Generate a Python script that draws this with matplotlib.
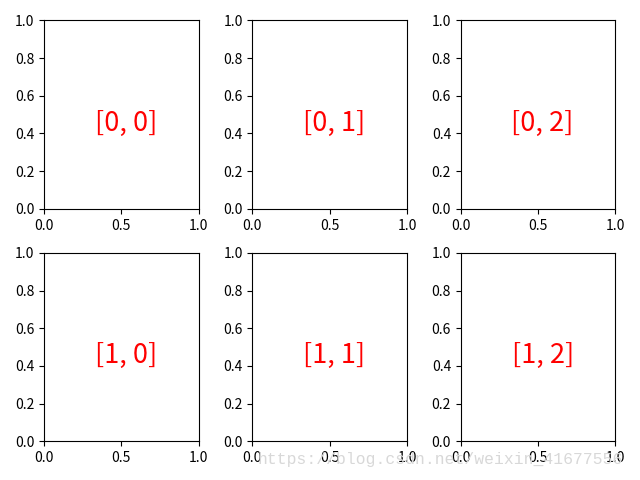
import matplotlib
matplotlib.use('Agg')
from matplotlib import pyplot as plt

plt.rcParams['font.family'] = ['Noto Sans CJK SC', 'DejaVu Sans']

n_rows = 2
n_cols = 3
labels = [['[0, 0]', '[0, 1]', '[0, 2]'],
          ['[1, 0]', '[1, 1]', '[1, 2]']]
watermark = 'https://blog.csdn.net/weixin_41677556'

fig, axes = plt.subplots(n_rows, n_cols, figsize=(6.4, 4.8), dpi=100)
for i in range(n_rows):
    for j in range(n_cols):
        ax = axes[i, j]
        ax.set_xlim(0, 1)
        ax.set_ylim(0, 1)
        ax.set_xticks([0, 0.5, 1])
        ax.set_xticklabels(['0.0', '0.5', '1.0'])
        ax.text(0.53, 0.455, labels[i][j], color='red', fontsize=19.5,
                ha='center', va='center', transform=ax.transAxes)

plt.tight_layout()
# csdn watermark
fig.text(0.403, 0.042, watermark, color='#d8d8d8', fontsize=11.8,
         family=['Liberation Mono', 'DejaVu Sans Mono'], ha='left', va='center', zorder=10)
plt.savefig('out.png')
